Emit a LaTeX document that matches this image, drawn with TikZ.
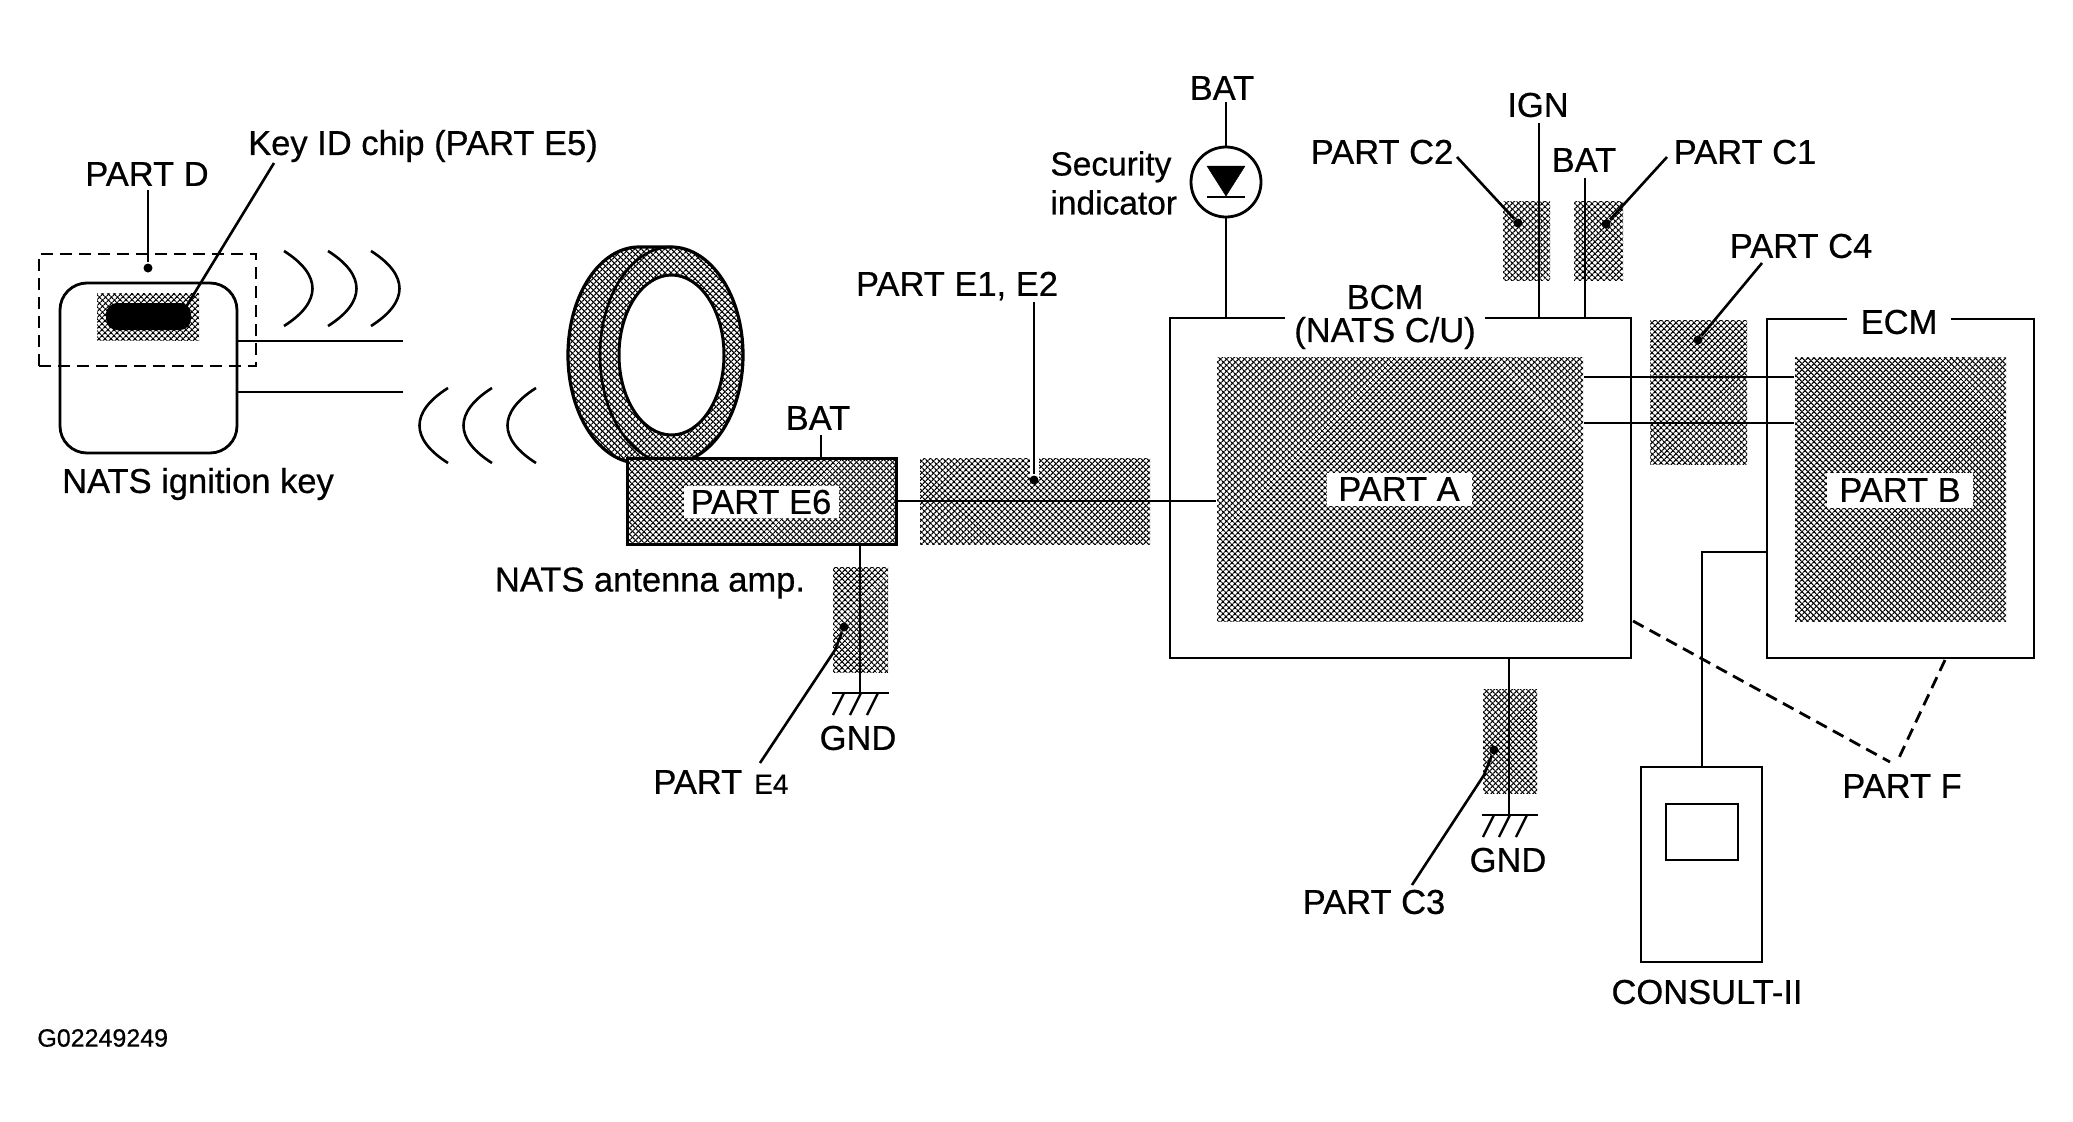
\documentclass[tikz,border=0pt]{standalone}
\usepackage{fontspec}
\newfontfamily\partfont[RawFeature={embolden=0.6}]{Liberation Sans}
\usetikzlibrary{arrows.meta,positioning,calc,patterns.meta,shapes.geometric}

\begin{document}
\begin{tikzpicture}[
  x=1pt, y=-1pt,
  font=\partfont\fontsize{34.5}{33}\selectfont,
  line width=2.8pt,
  tag/.style={inner sep=0pt, align=center},
  plate/.style={fill=white, inner sep=0pt, minimum height=32pt, align=center},
  unit/.style={draw, fill=white, line width=2.8pt, inner sep=0pt},
  hatch/.style={inner sep=0pt, fill=white,
    postaction={pattern={Lines[angle=45,distance=4pt,line width=1.3pt]}},
    postaction={pattern={Lines[angle=-45,distance=4pt,line width=1.3pt]}}},
  wire/.style={draw=black, line width=2.8pt},
  lead/.style={draw=black, line width=2.6pt},
  dot/.style={circle, fill=black, inner sep=0pt, minimum size=9pt},
  legpart/.style={dash pattern=on 12pt off 7pt, line width=2.8pt},
  gndbar/.style={line width=2.4pt}
]
\useasboundingbox (0,0) rectangle (2073,1122);

% key side
\node[unit, rounded corners=27pt, minimum width=177pt, minimum height=170pt] (key) at (148.5,368) {};
\node[hatch, minimum width=102pt, minimum height=47pt] (chiparea) at (148,316.5) {};
\node[fill=black, rounded corners=11pt, minimum width=85pt, minimum height=27pt, inner sep=0pt] (chip) at (148.5,316.5) {};
\node[draw, legpart, minimum width=217pt, minimum height=112pt] (partD) at (147.5,310) {};
\node[tag] (partDtext) at (147,174) {PART D};
\node[tag] (chiptext) at (423,146) {Key ID chip (PART E5)};
\node[tag] (keytext) at (198,484) {NATS ignition key};
\node[dot] (partDdot) at (148,268) {};
\coordinate (chipdot) at (186,307);
\draw[lead] (148,190) -- (partDdot);
\draw[lead] (274,163) -- (chipdot);
\coordinate (keyA) at (403,341);
\coordinate (keyB) at (403,392);
\draw[wire] (key.east |- keyA) -- (keyA);
\draw[wire] (key.east |- keyB) -- (keyB);

% radio waves
\foreach \wx in {284,328,371}
  \draw[line width=2.6pt] (\wx,251) .. controls (\wx+38,275) and (\wx+38,302) .. (\wx,326);
\foreach \wx in {448,492,536}
  \draw[line width=2.6pt] (\wx,388) .. controls (\wx-38,412) and (\wx-38,439) .. (\wx,463);

% antenna ring
\path[hatch] (568,355) arc[start angle=180,end angle=90,x radius=71pt,y radius=108pt]
  -- (671,247) arc[start angle=90,end angle=-90,x radius=72pt,y radius=108pt]
  -- (639,463) arc[start angle=270,end angle=180,x radius=71pt,y radius=108pt] -- cycle;
\draw[line width=3.2pt] (568,355) arc[start angle=180,end angle=90,x radius=71pt,y radius=108pt]
  -- (671,247) arc[start angle=90,end angle=-90,x radius=72pt,y radius=108pt]
  -- (639,463) arc[start angle=270,end angle=180,x radius=71pt,y radius=108pt];
\draw[line width=2.6pt] (600,355) arc[start angle=180,end angle=90,x radius=71pt,y radius=108pt];
\draw[line width=2.6pt] (600,355) arc[start angle=180,end angle=270,x radius=71pt,y radius=108pt];
\node[draw, ellipse, fill=white, line width=3pt, inner sep=0pt, minimum width=105pt, minimum height=160pt] (hole) at (671.5,355) {};

% antenna amp
\node[draw, hatch, line width=3pt, minimum width=269pt, minimum height=86pt] (partE6) at (761.5,501) {};
\node[plate, minimum width=155pt] (partE6text) at (761,502) {PART E6};
\node[tag] (ampBAT) at (818,418) {BAT};
\draw[wire] (partE6.north -| ampBAT) ++(3,0) -- ++(0,-22);
\node[tag] (amptext) at (650,583) {NATS antenna amp.};
\node[hatch, minimum width=230pt, minimum height=86pt] (partE12) at (1035,501) {};
\node[fill=white, inner sep=0pt, minimum width=9pt, minimum height=20pt] (partE12gap) at (1034,468) {};
\node[tag] (partE12text) at (957,286) {PART E1, E2};
\node[dot] (partE12dot) at (1034,480) {};
\draw[lead] (partE12dot |- 0,302) -- (partE12dot);

% ground of amp
\node[hatch, minimum width=55pt, minimum height=105pt] (partE4) at (860.5,619.5) {};
\coordinate (gndE) at (860,693);
\draw[wire] (partE6.south -| gndE) -- (gndE);
\draw[gndbar] (832,693) -- (889,693);
\foreach \tx in {844,861,878}
  \draw[gndbar] (\tx,693) -- (\tx-11,715);
\node[tag] (gndEtext) at (858,738) {GND};
\node[inner sep=0pt, anchor=west] (partE4text) at (652,782) {PART\hspace{12pt}{\fontsize{28}{32}\selectfont E4}};
\node[dot] (partE4dot) at (844,627) {};
\draw[lead] (760,763) -- (835,650) -- (partE4dot);

% BCM
\node[unit, minimum width=461pt, minimum height=340pt] (bcm) at (1400.5,488) {};
\node[plate, inner xsep=9pt, minimum height=56pt] (bcmtext) at (1385,317) {BCM\\(NATS C/U)};
\node[hatch, minimum width=366pt, minimum height=264pt] (partA) at (1400,489) {};
\node[plate, minimum width=145pt, minimum height=33pt] (partAtext) at (1399,489) {PART A};

% ECM
\node[unit, minimum width=267pt, minimum height=339pt] (ecm) at (1900.5,488.5) {};
\node[plate, minimum width=104pt, minimum height=36pt] (ecmtext) at (1899,322) {ECM};
\node[hatch, minimum width=211pt, minimum height=264pt] (partB) at (1900.5,489) {};
\node[plate, minimum width=146pt, minimum height=35pt] (partBtext) at (1900,490) {PART B};

% signal line
\draw[wire] (partE6.east) -- (partE6.east -| partA.west);

% link BCM to ECM
\node[hatch, minimum width=97pt, minimum height=144pt] (partC4) at (1698.5,392) {};
\coordinate (linkA) at (0,377);
\coordinate (linkB) at (0,423);
\draw[wire] (partA.east |- linkA) -- (partB.west |- linkA);
\draw[wire] (partA.east |- linkB) -- (partB.west |- linkB);
\node[tag] (partC4text) at (1801,246) {PART C4};
\node[dot] (partC4dot) at (1698,340) {};
\draw[lead] (1762,263) -- (partC4dot);

% security indicator
\node[tag] (topBAT) at (1222,88) {BAT};
\node[draw, circle, line width=2.8pt, minimum size=70pt, inner sep=0pt] (lamp) at (1226,182) {};
\draw[wire] (1226,102) -- (lamp.north);
\draw[wire] (lamp.south) -- (lamp.south |- bcm.north);
\draw[fill=black, line width=.5pt] (1207,166) -- (1245,166) -- (1226,196) -- cycle;
\draw[line width=2.8pt] (1207,197) -- (1245,197);
\node[tag, align=left, anchor=west, font=\partfont\fontsize{33.5}{39}\selectfont] (lamptext) at (1049,183) {Security\\indicator};

% feeds
\node[hatch, minimum width=47pt, minimum height=79pt] (partC2) at (1526.5,240.5) {};
\node[hatch, minimum width=49pt, minimum height=79pt] (partC1) at (1598.5,240.5) {};
\node[tag] (igntext) at (1538,105) {IGN};
\node[tag] (batC) at (1584,160) {BAT};
\draw[wire] (1539,123) -- (1539,318);
\draw[wire] (1585,178) -- (1585,318);
\node[tag] (partC2text) at (1382,152) {PART C2};
\node[tag] (partC1text) at (1745,152) {PART C1};
\node[dot] (partC2dot) at (1518,223) {};
\node[dot] (partC1dot) at (1606,224) {};
\draw[lead] (1457,157) -- (partC2dot);
\draw[lead] (1667,157) -- (partC1dot);

% ground of BCM
\node[hatch, minimum width=54pt, minimum height=104pt] (partC3) at (1510,741) {};
\coordinate (gndC) at (1509,815);
\draw[wire] (bcm.south -| gndC) -- (gndC);
\draw[gndbar] (1482,815) -- (1538,815);
\foreach \tx in {1494,1510,1527}
  \draw[gndbar] (\tx,815) -- (\tx-11,837);
\node[tag] (gndCtext) at (1508,860) {GND};
\node[tag] (partC3text) at (1374,902) {PART C3};
\node[dot] (partC3dot) at (1494,750) {};
\draw[lead] (1412,885) -- (1484,775) -- (partC3dot);

% tester
\node[unit, minimum width=121pt, minimum height=195pt] (consult) at (1701.5,864.5) {};
\node[unit, minimum width=72pt, minimum height=56pt] (screen) at (1702,832) {};
\node[tag] (consulttext) at (1707,992) {CONSULT-II};
\coordinate (tester) at (1702,552);
\draw[wire] (consult.north -| tester) -- (tester) -- (ecm.west |- tester);

% part F
\node[tag] (partFtext) at (1902,786) {PART F};
\draw[legpart] (1633,621) -- (1890,762);
\draw[legpart] (1945,660) -- (1897,762);

\node[tag, anchor=west, font=\partfont\fontsize{25}{28}\selectfont] (figid) at (36,1038) {G02249249};
\end{tikzpicture}
\end{document}
